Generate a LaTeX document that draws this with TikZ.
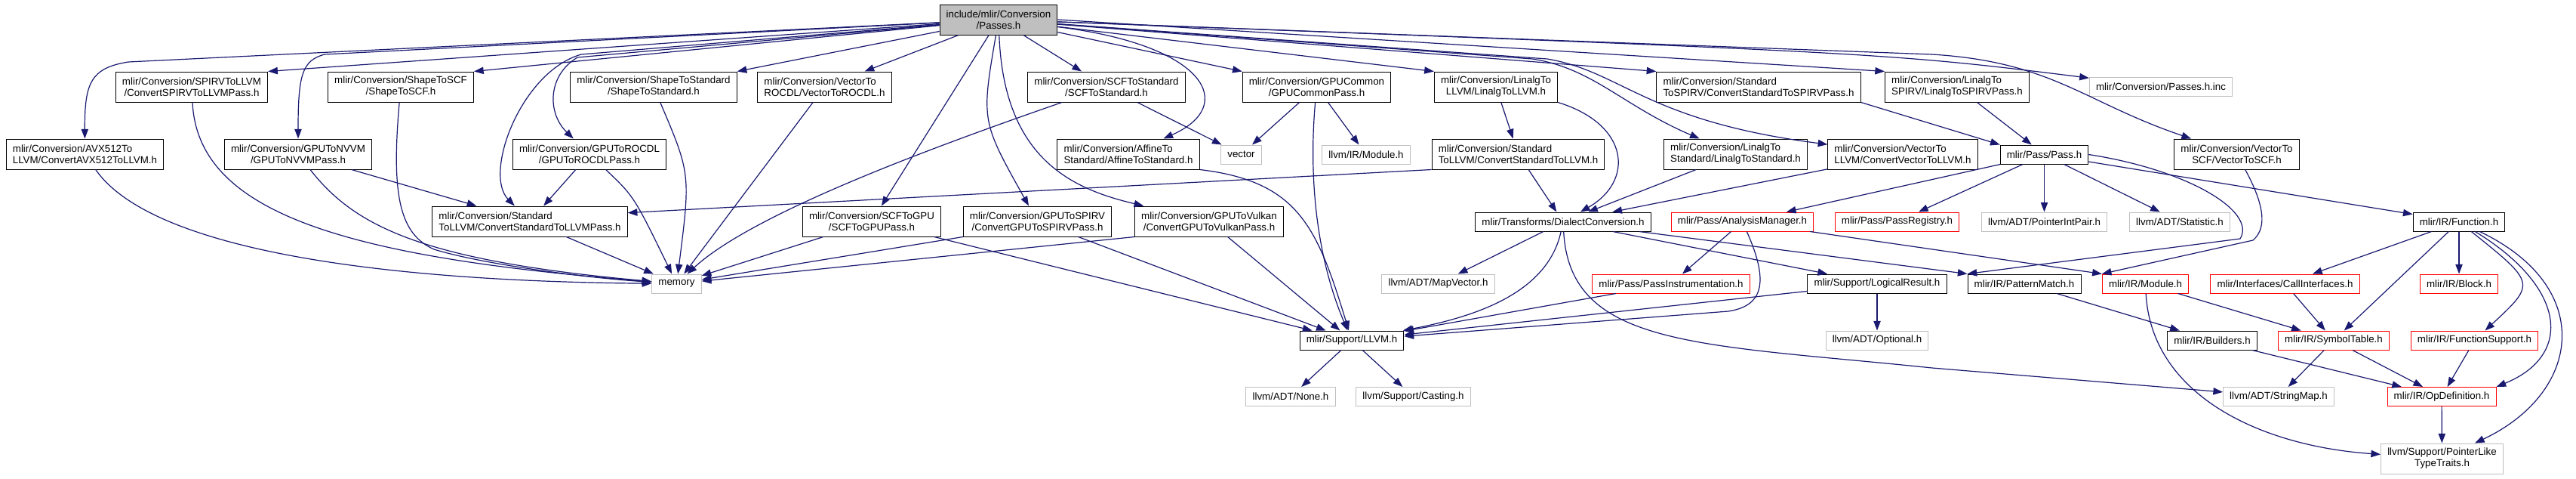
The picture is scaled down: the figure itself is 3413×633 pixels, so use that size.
\documentclass[tikz,border=0pt]{standalone}
\usepackage{fontspec}
\setmainfont{Liberation Sans}
\usetikzlibrary{arrows.meta}
\definecolor{edgeblue}{RGB}{25,25,112}
\definecolor{grey75}{RGB}{191,191,191}
\begin{document}
\begin{tikzpicture}[x=0.75pt, y=-0.75pt,
    every node/.style={font=\fontsize{10}{11.25}\selectfont, fill=white,
      line width=0.75pt, inner xsep=6.5pt, inner ysep=2pt, minimum height=18.75pt},
    hdr/.style={draw=black},
    sys/.style={draw=grey75},
    trunc/.style={draw=red},
    root/.style={draw=black, fill=grey75},
    tall/.style={minimum height=30pt, align=center},
    tallleft/.style={minimum height=30pt, align=left},
    dep/.style={draw=edgeblue, line width=0.9pt, -{Triangle[length=9.5pt, width=7pt]}}]
  \useasboundingbox (0,0) rectangle (3413,633);

  % 根文件
  \node[root, tall] (passes) at (1323,26) {include/mlir/Conversion\\/Passes.h};

  % 第一层
  \node[hdr, tall] (spirvllvm) at (254,115) {mlir/Conversion/SPIRVToLLVM\\/ConvertSPIRVToLLVMPass.h};
  \node[hdr, tall] (shapescf) at (531,115) {mlir/Conversion/ShapeToSCF\\/ShapeToSCF.h};
  \node[hdr, tall] (shapestd) at (866,115) {mlir/Conversion/ShapeToStandard\\/ShapeToStandard.h};
  \node[hdr, tallleft] (vecrocdl) at (1092.5,115) {mlir/Conversion/VectorTo\\ROCDL/VectorToROCDL.h};
  \node[hdr, tall] (scfstd) at (1466,115) {mlir/Conversion/SCFToStandard\\/SCFToStandard.h};
  \node[hdr, tall] (gpucommon) at (1744.5,115) {mlir/Conversion/GPUCommon\\/GPUCommonPass.h};
  \node[hdr, tall] (linalgllvm) at (1982,115) {mlir/Conversion/LinalgTo\\LLVM/LinalgToLLVM.h};
  \node[hdr, tallleft] (stdspirv) at (2330,115) {mlir/Conversion/Standard\\ToSPIRV/ConvertStandardToSPIRVPass.h};
  \node[hdr, tallleft] (linalgspirv) at (2593,115) {mlir/Conversion/LinalgTo\\SPIRV/LinalgToSPIRVPass.h};
  \node[sys] (passesinc) at (2863,115) {mlir/Conversion/Passes.h.inc};

  % 第二层
  \node[hdr, tallleft] (avx) at (112.5,204) {mlir/Conversion/AVX512To\\LLVM/ConvertAVX512ToLLVM.h};
  \node[hdr, tall] (gpunvvm) at (395,204) {mlir/Conversion/GPUToNVVM\\/GPUToNVVMPass.h};
  \node[hdr, tall] (gpurocdl) at (781,204) {mlir/Conversion/GPUToROCDL\\/GPUToROCDLPass.h};
  \node[hdr, tallleft] (affinestd) at (1495,204) {mlir/Conversion/AffineTo\\Standard/AffineToStandard.h};
  \node[sys] (vector) at (1644.5,204.5) {vector};
  \node[sys] (llvmmodule) at (1810,204.5) {llvm/IR/Module.h};
  \node[hdr, tallleft] (stdllvm) at (2011.5,204) {mlir/Conversion/Standard\\ToLLVM/ConvertStandardToLLVM.h};
  \node[hdr, tallleft] (linalgstd) at (2299.5,204) {mlir/Conversion/LinalgTo\\Standard/LinalgToStandard.h};
  \node[hdr, tallleft] (vecllvm) at (2521,204) {mlir/Conversion/VectorTo\\LLVM/ConvertVectorToLLVM.h};
  \node[hdr] (pass) at (2708.5,204.5) {mlir/Pass/Pass.h};
  \node[hdr, tall] (vecscf) at (2963.5,204) {mlir/Conversion/VectorTo\\SCF/VectorToSCF.h};

  % 第三层
  \node[hdr, tallleft] (stdllvmpass) at (702,293) {mlir/Conversion/Standard\\ToLLVM/ConvertStandardToLLVMPass.h};
  \node[hdr, tall] (scfgpu) at (1155,293) {mlir/Conversion/SCFToGPU\\/SCFToGPUPass.h};
  \node[hdr, tall] (gpuspirv) at (1374.5,293) {mlir/Conversion/GPUToSPIRV\\/ConvertGPUToSPIRVPass.h};
  \node[hdr, tall] (gpuvulkan) at (1602,293) {mlir/Conversion/GPUToVulkan\\/ConvertGPUToVulkanPass.h};
  \node[hdr] (dialect) at (2071,293.5) {mlir/Transforms/DialectConversion.h};
  \node[trunc] (analysis) at (2308.5,293.5) {mlir/Pass/AnalysisManager.h};
  \node[trunc] (registry) at (2513.5,293.5) {mlir/Pass/PassRegistry.h};
  \node[sys] (ptrintpair) at (2708.5,293.5) {llvm/ADT/PointerIntPair.h};
  \node[sys] (statistic) at (2888,293.5) {llvm/ADT/Statistic.h};
  \node[hdr] (function) at (3258,293.5) {mlir/IR/Function.h};

  % 第四层
  \node[sys] (memory) at (896.5,375.5) {memory};
  \node[sys] (mapvector) at (1905.5,375.5) {llvm/ADT/MapVector.h};
  \node[trunc] (instrument) at (2214,375.5) {mlir/Pass/PassInstrumentation.h};
  \node[hdr] (logical) at (2487,375.5) {mlir/Support/LogicalResult.h};
  \node[hdr] (pattern) at (2682,375.5) {mlir/IR/PatternMatch.h};
  \node[trunc] (irmodule) at (2842.5,375.5) {mlir/IR/Module.h};
  \node[trunc] (callif) at (3027.5,375.5) {mlir/Interfaces/CallInterfaces.h};
  \node[trunc] (block) at (3258,375.5) {mlir/IR/Block.h};

  % 第五层
  \node[hdr] (llvmh) at (1791,450.5) {mlir/Support/LLVM.h};
  \node[sys] (optional) at (2487,450.5) {llvm/ADT/Optional.h};
  \node[hdr] (builders) at (2931,450.5) {mlir/IR/Builders.h};
  \node[trunc] (symtab) at (3092,450.5) {mlir/IR/SymbolTable.h};
  \node[trunc] (funcsupport) at (3278.5,450.5) {mlir/IR/FunctionSupport.h};

  % 第六层和最底层
  \node[sys] (none) at (1710,525) {llvm/ADT/None.h};
  \node[sys] (casting) at (1872.5,525) {llvm/Support/Casting.h};
  \node[sys] (stringmap) at (3019,525) {llvm/ADT/StringMap.h};
  \node[trunc] (opdef) at (3235,525) {mlir/IR/OpDefinition.h};
  \node[sys, tall] (ptrlike) at (3235.5,607) {llvm/Support/PointerLike\\TypeTraits.h};

  % Passes.h 直接包含的头文件
  \draw[dep] (passes) -- (170,82) .. controls (120,90) and (112,110) .. (avx);
  \draw[dep] (passes) -- (spirvllvm.north east);
  \draw[dep] (passes) -- (430,72) .. controls (400,80) and (395,100) .. (gpunvvm);
  \draw[dep] (passes) -- (shapescf.north east);
  \draw[dep] (passes) -- (770,72) .. controls (690,95) and (640,230) .. (stdllvmpass);
  \draw[dep] (passes) -- (765,76) .. controls (725,100) and (725,150) .. (gpurocdl);
  \draw[dep] (passes) -- (shapestd.north east);
  \draw[dep] (passes) -- (vecrocdl);
  \draw[dep] (passes) -- (scfgpu);
  \draw[dep] (passes) .. controls (1300,160) .. (gpuspirv);
  \draw[dep] (passes) .. controls (1330,210) and (1420,250) .. (gpuvulkan);
  \draw[dep] (passes) -- (scfstd);
  \draw[dep] (passes) .. controls (1600,60) and (1640,140) .. (affinestd);
  \draw[dep] (passes) -- (gpucommon.north west);
  \draw[dep] (passes) -- (linalgllvm.north west);
  \draw[dep] (passes) -- (2030,78) .. controls (2110,90) and (2150,140) .. (linalgstd);
  \draw[dep] (passes) -- (2050,78) .. controls (2150,95) and (2180,160) .. (vecllvm);
  \draw[dep] (passes) -- (stdspirv.north west);
  \draw[dep] (passes.east) -- (linalgspirv.north west);
  \draw[dep] (passes) .. controls (2500,70) .. (passesinc);
  \draw[dep] (passes) -- (2560,72) .. controls (2720,82) and (2760,135) .. (vecscf);

  % 指向 memory
  \draw[dep] (avx) .. controls (200,330) and (500,372) .. (memory);
  \draw[dep] (spirvllvm) .. controls (262,280) and (450,340) .. (memory);
  \draw[dep] (gpunvvm) .. controls (470,300) and (560,345) .. (memory);
  \draw[dep] (shapescf) .. controls (518,260) and (530,310) .. (575,330)
      .. controls (640,350) and (780,368) .. (memory);
  \draw[dep] (shapestd) .. controls (915,230) .. (memory);
  \draw[dep] (vecrocdl) -- (memory);
  \draw[dep] (scfstd) .. controls (1250,190) and (1000,280) .. (memory);
  \draw[dep] (gpurocdl) .. controls (840,260) .. (memory);
  \draw[dep] (stdllvmpass) -- (memory);
  \draw[dep] (scfgpu) -- (memory);
  \draw[dep] (gpuspirv.south west) -- (memory);
  \draw[dep] (gpuvulkan.south west) -- (memory);

  % 转换头文件之间
  \draw[dep] (gpunvvm) -- (stdllvmpass);
  \draw[dep] (gpurocdl) -- (stdllvmpass);
  \draw[dep] (stdllvm.south west) -- (stdllvmpass.5);
  \draw[dep] (scfstd) -- (vector);
  \draw[dep] (gpucommon) -- (vector);
  \draw[dep] (gpucommon) -- (llvmmodule);
  \draw[dep] (gpucommon) .. controls (1735,220) and (1740,330) .. (llvmh);
  \draw[dep] (affinestd.south east) .. controls (1720,240) and (1745,300) .. (llvmh);
  \draw[dep] (scfgpu) -- (llvmh);
  \draw[dep] (gpuspirv) -- (llvmh);
  \draw[dep] (gpuvulkan) -- (llvmh);
  \draw[dep] (linalgllvm) -- (stdllvm);
  \draw[dep] (linalgllvm.south east) .. controls (2160,165) and (2165,240) .. (dialect);
  \draw[dep] (stdllvm) -- (dialect);
  \draw[dep] (linalgstd) -- (dialect);
  \draw[dep] (vecllvm) -- (dialect);
  \draw[dep] (stdspirv.south east) -- (pass.north west);
  \draw[dep] (linalgspirv) -- (pass);

  % Pass 与 DialectConversion
  \draw[dep] (pass) -- (analysis);
  \draw[dep] (pass) -- (registry);
  \draw[dep] (pass) -- (ptrintpair);
  \draw[dep] (pass) -- (statistic);
  \draw[dep] (pass) -- (function);
  \draw[dep] (pass.east) .. controls (2900,225) and (2990,280) .. (2968,316) -- (pattern.north west);
  \draw[dep] (vecscf) .. controls (3005,280) and (3000,305) .. (2985,318) -- (irmodule.north west);
  \draw[dep] (dialect) -- (mapvector);
  \draw[dep] (dialect) .. controls (2050,390) and (1950,420) .. (llvmh);
  \draw[dep] (dialect) -- (logical);
  \draw[dep] (dialect) -- (pattern.north west);
  \draw[dep] (dialect) .. controls (2080,460) and (2250,455) .. (2560,487) -- (stringmap);
  \draw[dep] (analysis) -- (instrument);
  \draw[dep] (analysis) .. controls (2345,375) and (2335,405) .. (2290,412) -- (llvmh);
  \draw[dep] (analysis) -- (irmodule.north west);
  \draw[dep] (instrument) -- (llvmh);
  \draw[dep] (logical) -- (llvmh);
  \draw[dep] (logical) -- (optional);
  \draw[dep] (llvmh) -- (none);
  \draw[dep] (llvmh) -- (casting);

  % IR 部分
  \draw[dep] (pattern) -- (builders);
  \draw[dep] (irmodule) -- (symtab);
  \draw[dep] (irmodule) .. controls (2850,520) and (2990,590) .. (ptrlike);
  \draw[dep] (callif) -- (symtab);
  \draw[dep] (builders) -- (opdef);
  \draw[dep] (symtab) -- (stringmap);
  \draw[dep] (symtab) -- (opdef);
  \draw[dep] (funcsupport) -- (opdef);
  \draw[dep] (opdef) -- (ptrlike);
  \draw[dep] (function) -- (callif);
  \draw[dep] (function) -- (symtab);
  \draw[dep] (function) -- (block);
  \draw[dep] (function) .. controls (3360,375) .. (funcsupport);
  \draw[dep] (function) .. controls (3400,380) and (3410,470) .. (opdef.north east);
  \draw[dep] (function) .. controls (3440,380) and (3420,520) .. (ptrlike);
\end{tikzpicture}
\end{document}
